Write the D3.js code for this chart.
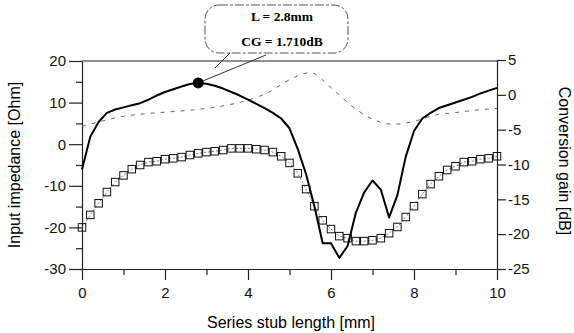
<!DOCTYPE html>
<html>
<head>
<meta charset="utf-8">
<script src="https://cdn.jsdelivr.net/npm/d3@7"></script>
<style>
  body { margin: 0; background: #fff; }
  svg { display: block; }
</style>
</head>
<body>
<div id="chart"></div>
<script>
"use strict";

// sample grid of the simulation, 0.2 mm steps
var stubLen = [0, 0.2, 0.4, 0.6, 0.8, 1, 1.2, 1.4, 1.6, 1.8, 2, 2.2, 2.4, 2.6, 2.8, 3, 3.2, 3.4, 3.6, 3.8,
  4, 4.2, 4.4, 4.6, 4.8, 5, 5.2, 5.4, 5.6, 5.8, 6, 6.2, 6.4, 6.6, 6.8, 7, 7.2, 7.4, 7.6, 7.8,
  8, 8.2, 8.4, 8.6, 8.8, 9, 9.2, 9.4, 9.6, 9.8, 10];

// squares, input impedance [Ohm] (left axis)
var impSquares = [-20, -17, -14.2, -11.5, -9.1, -7.5, -6.0, -5.0, -4.3, -4.1, -3.6, -3.4, -3.1, -2.6, -2.2, -1.9, -1.7, -1.4, -1.0, -1.0,
  -1.0, -1.2, -1.4, -1.9, -2.9, -4.5, -7.0, -10.8, -14.9, -18.3, -20.4, -22.1, -22.6, -23.3, -23.3, -23.1, -22.6, -21.4, -19.9, -17.5,
  -14.9, -12.0, -9.6, -7.7, -6.2, -5.3, -4.3, -4.1, -3.6, -3.4, -2.9];

// solid line, conversion gain [dB] (right axis)
var gainDb = [-10.7, -6.0, -3.9, -2.6, -2.1, -1.8, -1.5, -1.2, -0.7, -0.1, 0.4, 0.8, 1.2, 1.55, 1.71, 1.6, 1.3, 0.9, 0.4, -0.1,
  -0.7, -1.3, -1.9, -2.6, -3.4, -4.8, -7.8, -11.4, -16.0, -21.3, -21.3, -23.4, -21.7, -16.9, -14.0, -12.3, -13.6, -17.6, -14.4, -8.9,
  -5.2, -3.4, -2.6, -1.9, -1.5, -1.1, -0.7, -0.3, 0.2, 0.6, 1.0];

// dashed line, input impedance [Ohm] (left axis)
var dashLen = [0, 0.5, 1, 1.5, 2, 2.5, 3, 3.5, 4, 4.5, 5, 5.5, 6, 6.5, 7, 7.5, 8, 8.5, 9, 9.5, 10];
var dashImp = [4.3, 5.6, 6.7, 7.3, 7.7, 8.1, 8.6, 9.4, 10.6, 12.5, 15.5, 17.2, 13.6, 9.2, 6.0, 4.8, 5.5, 7.0, 7.6, 8.2, 8.6];

var markLen = [2.8];
var markGain = [1.71];
var calloutText = ["L = 2.8mm", "CG = 1.710dB"];

var xTicks = [0, 2, 4, 6, 8, 10];
var xMinor = [1, 3, 5, 7, 9];
var leftTicks = [-30, -20, -10, 0, 10, 20];
var leftMinor = [-25, -15, -5, 5, 15];
var rightTicks = [-25, -20, -15, -10, -5, 0, 5];

var W = 574, H = 333;
var sans = "'Liberation Sans', Arial, sans-serif";

var svg = d3.select('#chart').append('svg')
  .attr('width', W)
  .attr('height', H);

var x = d3.scaleLinear().domain([0, 10]).range([82, 497]);
var yL = d3.scaleLinear().domain([-30, 20]).range([269, 61]);
var yR = d3.scaleLinear().domain([-25, 5]).range([269, 60]);

var fmt = function(d) { return String(d); };

// axes
svg.append('g')
  .attr('transform', 'translate(0,269)')
  .call(d3.axisBottom(x).tickValues(xTicks).tickSize(11).tickSizeOuter(0).tickPadding(7).tickFormat(fmt));
svg.append('g')
  .attr('transform', 'translate(0,269)')
  .call(d3.axisBottom(x).tickValues(xMinor).tickSize(6).tickFormat(''))
  .select('.domain').remove();

svg.append('g')
  .attr('transform', 'translate(82,0)')
  .call(d3.axisLeft(yL).tickValues(leftTicks).tickSize(13).tickSizeOuter(0).tickPadding(3).tickFormat(fmt));
svg.append('g')
  .attr('transform', 'translate(82,0)')
  .call(d3.axisLeft(yL).tickValues(leftMinor).tickSize(6).tickFormat(''))
  .select('.domain').remove();

svg.append('g')
  .attr('transform', 'translate(497,0)')
  .call(d3.axisRight(yR).tickValues(rightTicks).tickSize(9).tickSizeOuter(0).tickPadding(2).tickFormat(fmt));

svg.selectAll('.tick text')
  .attr('font-family', sans)
  .attr('font-size', 15)
  .attr('fill', '#111');
svg.selectAll('.domain, .tick line').attr('stroke', '#222').attr('stroke-width', 1.2);

// top border
svg.append('line')
  .attr('x1', x(0)).attr('x2', x(10))
  .attr('y1', yL(20)).attr('y2', yL(20))
  .attr('stroke', '#222').attr('stroke-width', 1.2);

// dashed impedance line
svg.append('path')
  .datum(dashLen.map(function(d, i) { return [d, dashImp[i]]; }))
  .attr('d', d3.line().x(function(d) { return x(d[0]); }).y(function(d) { return yL(d[1]); }).curve(d3.curveMonotoneX))
  .attr('fill', 'none')
  .attr('stroke', '#666')
  .attr('stroke-width', 1)
  .attr('stroke-dasharray', '4,6');

// squares with thin connecting line
var sq = stubLen.map(function(d, i) { return [d, impSquares[i]]; });
svg.append('path')
  .datum(sq)
  .attr('d', d3.line().x(function(d) { return x(d[0]); }).y(function(d) { return yL(d[1]); }))
  .attr('fill', 'none')
  .attr('stroke', '#555')
  .attr('stroke-width', 0.8)
  .attr('stroke-dasharray', '2,2');

svg.selectAll('rect.sq')
  .data(sq)
  .enter().append('rect')
  .attr('class', 'sq')
  .attr('x', function(d) { return x(d[0]) - 3.75; })
  .attr('y', function(d) { return yL(d[1]) - 3.75; })
  .attr('width', 7.5)
  .attr('height', 7.5)
  .attr('fill', 'none')
  .attr('stroke', '#111')
  .attr('stroke-width', 1);

// conversion gain solid line
svg.append('path')
  .datum(stubLen.map(function(d, i) { return [d, gainDb[i]]; }))
  .attr('d', d3.line().x(function(d) { return x(d[0]); }).y(function(d) { return yR(d[1]); }))
  .attr('fill', 'none')
  .attr('stroke', '#000')
  .attr('stroke-width', 2)
  .attr('stroke-linejoin', 'round');

// marker and callout
var mx = x(markLen[0]), my = yR(markGain[0]);

svg.append('rect')
  .attr('x', 205).attr('y', 5)
  .attr('width', 143).attr('height', 48)
  .attr('rx', 14)
  .attr('fill', '#fff')
  .attr('stroke', '#555')
  .attr('stroke-width', 1)
  .attr('stroke-dasharray', '9,2,3,2');

svg.append('line')
  .attr('x1', 230).attr('y1', 53).attr('x2', 215).attr('y2', 68)
  .attr('stroke', '#333').attr('stroke-width', 1);
svg.append('line')
  .attr('x1', 266).attr('y1', 55).attr('x2', mx).attr('y2', my)
  .attr('stroke', '#333').attr('stroke-width', 1);

svg.append('circle')
  .attr('cx', mx).attr('cy', my).attr('r', 5.5)
  .attr('fill', '#000');

svg.selectAll('text.callout')
  .data(calloutText)
  .enter().append('text')
  .attr('class', 'callout')
  .attr('x', 282)
  .attr('y', function(d, i) { return 21 + i * 25; })
  .attr('text-anchor', 'middle')
  .attr('font-family', "'Liberation Serif', 'Times New Roman', serif")
  .attr('font-weight', 'bold')
  .attr('font-size', 13.5)
  .text(function(d) { return d; });

// axis titles
svg.append('text')
  .attr('transform', 'translate(20,165) rotate(-90)')
  .attr('text-anchor', 'middle')
  .attr('font-family', sans)
  .attr('font-size', 16)
  .text('Input impedance [Ohm]');

svg.append('text')
  .attr('transform', 'translate(559,161) rotate(90)')
  .attr('text-anchor', 'middle')
  .attr('font-family', sans)
  .attr('font-size', 16)
  .text('Conversion gain [dB]');

svg.append('text')
  .attr('x', 291).attr('y', 328)
  .attr('text-anchor', 'middle')
  .attr('font-family', sans)
  .attr('font-size', 16)
  .text('Series stub length [mm]');
</script>
</body>
</html>
